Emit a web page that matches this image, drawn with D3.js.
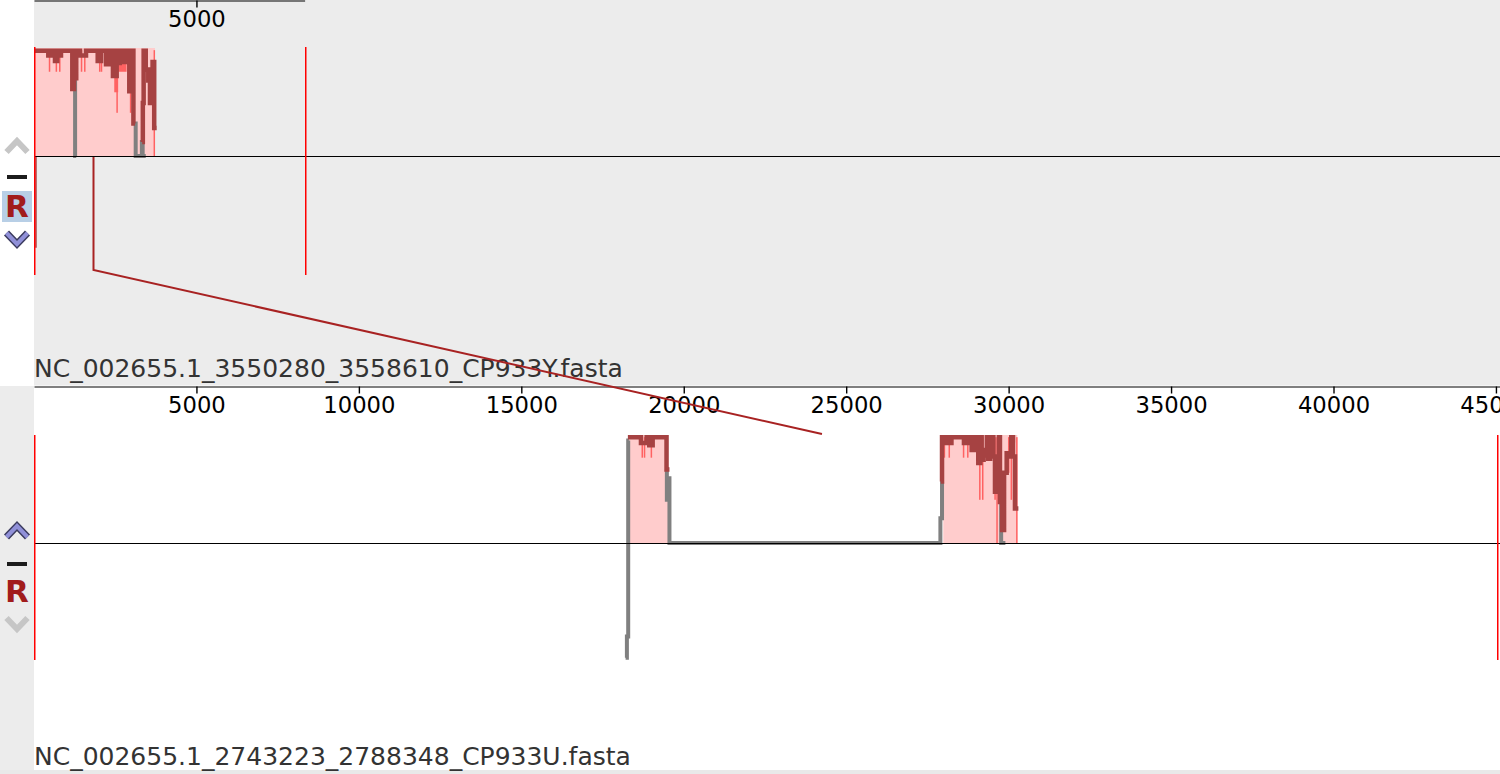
<!DOCTYPE html>
<html>
<head>
<meta charset="utf-8">
<script src="https://cdn.jsdelivr.net/npm/d3@7"></script>
<style>
  html, body { margin: 0; padding: 0; background: #ffffff; }
  svg { display: block; }
  text { font-family: "DejaVu Sans", sans-serif; }
</style>
</head>
<body>
<script>
// ---------------- data ----------------
const genomeNames = [
  "NC_002655.1_3550280_3558610_CP933Y.fasta",
  "NC_002655.1_2743223_2788348_CP933U.fasta"
];
const genomeLengths = [8330, 45125];
const topTicks = [5000];
const bottomTicks = [5000, 10000, 15000, 20000, 25000, 30000, 35000, 40000, 45000];

// LCB intervals (bp)
const topLCBs = [[0, 3724]];
const bottomLCBs = [[18300, 19520], [27988, 30266]];

// similarity profile (bp, level), null = gap
const topProfile = [
  [0,.975],[440,.93],[514,.975],[646,.88],[717,.975],[760,.93],[831,.975],
  [1179,.62],[1231,.72],[1300,.975],[1416,.93],[1601,.975],[1961,.88],[2062,.975],
  [2216,.85],[2299,.975],[2350,.93],[2401,.975],[2430,.74],[2545,.975],[2580,.86],
  [2640,.975],[2680,.87],[2740,.975],[2770,.87],[2830,.975],[2933,.60],[3000,.975],
  [3060,.30],[3110,.30],
  null,
  [3330,.13],[3350,.49],[3375,.975],[3440,.80],[3518,.70],[3570,.49],[3650,.87],
  [3700,.26],[3777,.26]
];
const topGray = [
  [1240,.70],[1265,0],[1300,0],
  null,
  [3090,.30],[3130,0],[3320,.13],[3345,0],[3440,0]
];
// light (minimum) profile spikes: [bpStart, bpEnd, level]
const topLight = [
  [455,490,.78],[665,690,.78],[770,795,.78],[1440,1460,.78],[1540,1560,.78],
  [2000,2020,.78],[2055,2075,.78],[2470,2590,.59],[2535,2560,.40],[2590,2850,.78],
  [2950,2975,.40],[3460,3490,.70],[3680,3700,0]
];
// reverse-strand profile bars below the centre line
const topLower = [[30, -0.77]];

const bottomProfile = [
  [18280,.98],[18683,.926],[18859,.98],[18939,.905],[19043,.98],[19470,.68],[19560,.68],
  null,
  [27910,.57],[27950,.98],[28061,.926],[28110,.98],[28194,.926],[28240,.98],[28625,.926],
  [28700,.98],[28740,.926],[28800,.98],[28862,.86],[28964,.98],[29020,.86],[29066,.74],
  [29130,.98],[29170,.77],[29230,.86],[29272,.81],[29330,.98],[29373,.78],[29430,.86],
  [29478,.98],[29530,.80],[29580,.475],[29650,.74],[29700,.98],[29733,.38],[29800,.12],
  [29860,.65],[29940,.83],[30020,.80],[30080,.98],[30134,.80],[30195,.32],[30300,.32]
];
const bottomGray = [
  [18210,-.98],[18250,-.80],[18290,.95],[18310,.95],
  null,
  [19450,.68],[19480,.40],[19520,.60],[19560,0],[27900,.23],[27950,.565],[27990,.565],
  null,
  [29730,.38],[29770,0],[29900,0]
];
const bottomLight = [
  [18700,18720,.79],[18770,18790,.79],[18980,19000,.79],
  [28000,28020,.79],[28150,28170,.79],[28590,28610,.79],[28720,28740,.79],
  [29090,29110,.40],[29180,29200,.40],[29560,29580,.40],[29620,29640,0],
  [29980,30000,.65],[30060,30080,.40],[30230,30250,0],[30000,30200,.93]
];
const bottomLower = [];

// LCB connector: [bp in top genome, bp in bottom genome]
const lcbLink = [1831, 24255];

// ---------------- drawing ----------------
const W = 1500, H = 774;
const svg = d3.select("body").append("svg").attr("width", W).attr("height", H);

const x = d3.scaleLinear().domain([0, genomeLengths[1]]).range([34, 1500]);

const C = {
  panelGray: "#ececec",
  pink: "#ffcccc",
  dark: "#a64242",
  light: "#ff6262",
  gray: "#808080",
  red: "#ff0000",
  link: "#a82222"
};

// backgrounds
svg.append("rect").attr("x", 0).attr("y", 0).attr("width", W).attr("height", H).attr("fill", "#fff");
svg.append("rect").attr("x", 34).attr("y", 0).attr("width", W - 34).attr("height", 385.5).attr("fill", C.panelGray);
svg.append("rect").attr("x", 0).attr("y", 386).attr("width", 34).attr("height", 384).attr("fill", C.panelGray);
svg.append("rect").attr("x", 0).attr("y", 770).attr("width", W).attr("height", 4).attr("fill", "#e9e9e9");

const panels = [
  { name: genomeNames[0], len: genomeLengths[0], ticks: topTicks, lcbs: topLCBs, prof: topProfile,
    gray: topGray, light: topLight, lower: topLower, axisY: 0.5, labelY: 377,
    y: d3.scaleLinear().domain([-1, 0, 1]).range([275, 156, 48]), boxTop: 47, boxBot: 275, center: 156.5 },
  { name: genomeNames[1], len: genomeLengths[1], ticks: bottomTicks, lcbs: bottomLCBs, prof: bottomProfile,
    gray: bottomGray, light: bottomLight, lower: bottomLower, axisY: 386.5, labelY: 765,
    y: d3.scaleLinear().domain([-1, 0, 1]).range([660, 543, 435]), boxTop: 435, boxBot: 660, center: 543.5 }
];

panels.forEach(p => {
  const g = svg.append("g");
  const y = p.y;
  // LCB background
  g.selectAll(".lcb").data(p.lcbs).join("rect").attr("class", "lcb")
    .attr("x", d => x(d[0])).attr("width", d => x(d[1]) - x(d[0]))
    .attr("y", y(1)).attr("height", y(0) - y(1)).attr("fill", C.pink);
  // light (minimum) spikes
  g.selectAll(".lt").data(p.light).join("rect").attr("class", "lt")
    .attr("x", d => x(d[0]))
    .attr("width", d => Math.max(1.5, x(d[1]) - x(d[0])))
    .attr("y", y(0.98))
    .attr("height", d => y(d[2]) - y(0.98))
    .attr("fill", C.light);
  const line = d3.line()
    .defined(d => d !== null && d[1] !== null)
    .x(d => x(d[0])).y(d => y(d[1]))
    .curve(d3.curveStepAfter);
  g.append("path").attr("d", line(p.gray)).attr("fill", "none")
    .attr("stroke", C.gray).attr("stroke-width", 4);
  g.append("path").attr("d", line(p.prof)).attr("fill", "none")
    .attr("stroke", C.dark).attr("stroke-width", 4.5);
  g.selectAll(".lw").data(p.lower).join("line").attr("class", "lw")
    .attr("x1", d => x(d[0]) + 1).attr("x2", d => x(d[0]) + 1)
    .attr("y1", y(0)).attr("y2", d => y(d[1]))
    .attr("stroke", C.dark).attr("stroke-width", 1.5);
  // centre line
  g.append("line").attr("x1", 34).attr("x2", W).attr("y1", p.center).attr("y2", p.center)
    .attr("stroke", "#000").attr("stroke-width", 1);
  // genome boundaries
  [0, p.len].forEach(v => {
    const xx = Math.min(Math.round(x(v)), W - 3);
    g.append("rect").attr("x", xx).attr("y", p.boxTop).attr("width", 1.5)
      .attr("height", p.boxBot - p.boxTop).attr("fill", C.red);
  });
  // ruler
  const rs = d3.scaleLinear().domain([0, p.len]).range([34, x(p.len)]);
  const ax = d3.axisBottom(rs).tickValues(p.ticks).tickSize(7).tickSizeOuter(0).tickPadding(3)
    .tickFormat(d3.format("d"));
  const ag = g.append("g").attr("transform", `translate(0,${p.axisY})`).call(ax);
  ag.select(".domain").attr("stroke", "#000").attr("stroke-width", 1.2);
  ag.selectAll(".tick line").attr("stroke", "#000").attr("stroke-width", 1.4);
  ag.selectAll(".tick text").attr("font-family", "DejaVu Sans").attr("font-size", 22.7).attr("fill", "#000");
  // genome label
  g.append("text").attr("x", 34).attr("y", p.labelY).attr("font-size", 25)
    .attr("fill", "#333").text(p.name);
});

// LCB connector line
{
  const y0 = panels[0].y, y1 = panels[1].y;
  const xa = Math.round(x(lcbLink[0])) + 0.5, xb = x(lcbLink[1]);
  const path = d3.path();
  path.moveTo(xa, y0(0) + 1);
  path.lineTo(xa, 270);
  path.lineTo(xb, y1(1) - 1);
  svg.append("path").attr("d", path.toString()).attr("fill", "none")
    .attr("stroke", C.link).attr("stroke-width", 2);
}

// ---------------- side controls ----------------
function chevron(pts, style) {
  const l = d3.line();
  if (style === "on") {
    svg.append("path").attr("d", l(pts)).attr("fill", "none").attr("stroke", "#3b3b5e")
      .attr("stroke-width", 7).attr("stroke-linejoin", "miter");
    svg.append("path").attr("d", l(pts)).attr("fill", "none").attr("stroke", "#9090d8")
      .attr("stroke-width", 4).attr("stroke-linejoin", "miter");
  } else {
    svg.append("path").attr("d", l(pts)).attr("fill", "none").attr("stroke", "#c6c6c6")
      .attr("stroke-width", 6).attr("stroke-linejoin", "miter");
  }
}
function controls(upY, minusY, rY, downY, upOn, downOn, rHighlight) {
  chevron([[6.5, upY + 11], [17, upY], [27.5, upY + 11]], upOn ? "on" : "off");
  svg.append("rect").attr("x", 7).attr("y", minusY).attr("width", 20).attr("height", 4)
    .attr("fill", "#1c1c1c");
  if (rHighlight) {
    svg.append("rect").attr("x", 2).attr("y", rY - 26).attr("width", 30).attr("height", 31)
      .attr("fill", "#b8cfe6");
  }
  svg.append("text").attr("x", 17).attr("y", rY).attr("text-anchor", "middle")
    .attr("font-size", 31).attr("font-weight", "bold").attr("fill", "#a11c1c").text("R");
  chevron([[6.5, downY], [17, downY + 11], [27.5, downY]], downOn ? "on" : "off");
}
controls(141, 175, 217, 233, false, true, true);
controls(526, 562, 602, 618, true, false, false);
</script>
</body>
</html>
